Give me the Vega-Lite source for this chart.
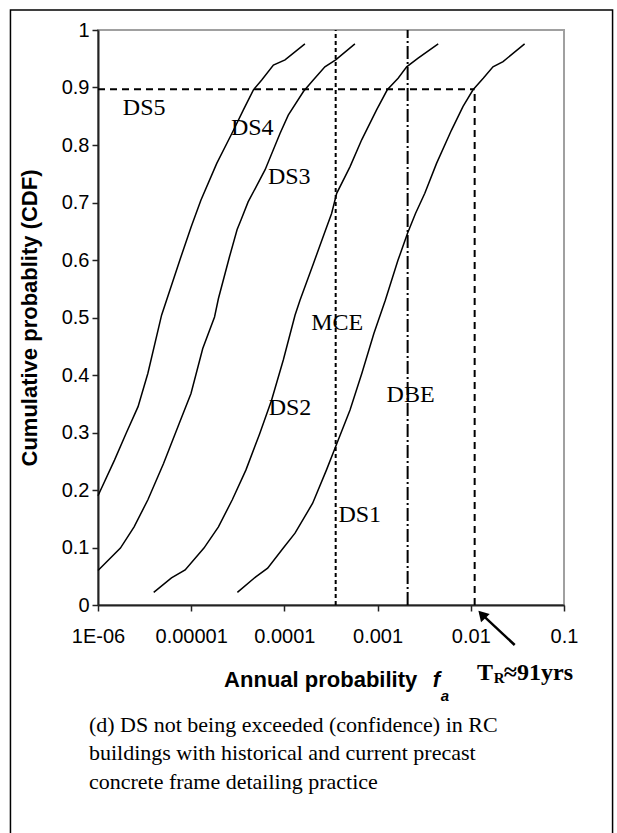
{
  "$schema": "https://vega.github.io/schema/vega-lite/v6.json",
  "width": 466,
  "height": 575,
  "autosize": "none",
  "padding": {"left": 98, "top": 30, "right": 53, "bottom": 228},
  "background": "white",
  "config": {"view": {"stroke": "#a0a0a0", "strokeWidth": 2}, "font": "Liberation Sans"},
  "datasets": {
    "frame": [{"x": 1.15e-7, "x2": 0.332, "y": 1.035, "y2": -0.42}],
    "curves": [
      {"series": "DS5", "x": 1.0e-6, "y": 0.19},
      {"series": "DS5", "x": 1.503e-6, "y": 0.252},
      {"series": "DS5", "x": 2.01e-6, "y": 0.299},
      {"series": "DS5", "x": 2.69e-6, "y": 0.345},
      {"series": "DS5", "x": 3.43e-6, "y": 0.403},
      {"series": "DS5", "x": 4.81e-6, "y": 0.504},
      {"series": "DS5", "x": 7.67e-6, "y": 0.603},
      {"series": "DS5", "x": 1.0e-5, "y": 0.658},
      {"series": "DS5", "x": 1.27e-5, "y": 0.704},
      {"series": "DS5", "x": 1.88e-5, "y": 0.768},
      {"series": "DS5", "x": 2.73e-5, "y": 0.82},
      {"series": "DS5", "x": 3.63e-5, "y": 0.861},
      {"series": "DS5", "x": 4.65e-5, "y": 0.896},
      {"series": "DS5", "x": 5.71e-5, "y": 0.913},
      {"series": "DS5", "x": 7.62e-5, "y": 0.939},
      {"series": "DS5", "x": 1.016e-4, "y": 0.948},
      {"series": "DS5", "x": 1.66e-4, "y": 0.976},
      {"series": "DS4", "x": 1.0e-6, "y": 0.06},
      {"series": "DS4", "x": 1.74e-6, "y": 0.099},
      {"series": "DS4", "x": 2.44e-6, "y": 0.136},
      {"series": "DS4", "x": 3.43e-6, "y": 0.183},
      {"series": "DS4", "x": 5.05e-6, "y": 0.246},
      {"series": "DS4", "x": 7.45e-6, "y": 0.316},
      {"series": "DS4", "x": 9.95e-6, "y": 0.368},
      {"series": "DS4", "x": 1.33e-5, "y": 0.446},
      {"series": "DS4", "x": 1.78e-5, "y": 0.501},
      {"series": "DS4", "x": 1.96e-5, "y": 0.533},
      {"series": "DS4", "x": 2.58e-5, "y": 0.606},
      {"series": "DS4", "x": 3.11e-5, "y": 0.653},
      {"series": "DS4", "x": 3.43e-5, "y": 0.67},
      {"series": "DS4", "x": 4.08e-5, "y": 0.701},
      {"series": "DS4", "x": 6.21e-5, "y": 0.757},
      {"series": "DS4", "x": 8.97e-5, "y": 0.82},
      {"series": "DS4", "x": 1.10e-4, "y": 0.852},
      {"series": "DS4", "x": 1.60e-4, "y": 0.893},
      {"series": "DS4", "x": 2.04e-4, "y": 0.913},
      {"series": "DS4", "x": 2.72e-4, "y": 0.936},
      {"series": "DS4", "x": 3.55e-4, "y": 0.948},
      {"series": "DS4", "x": 5.71e-4, "y": 0.976},
      {"series": "DS3", "x": 3.96e-6, "y": 0.022},
      {"series": "DS3", "x": 6.14e-6, "y": 0.047},
      {"series": "DS3", "x": 8.61e-6, "y": 0.061},
      {"series": "DS3", "x": 1.37e-5, "y": 0.099},
      {"series": "DS3", "x": 1.96e-5, "y": 0.136},
      {"series": "DS3", "x": 2.76e-5, "y": 0.183},
      {"series": "DS3", "x": 3.87e-5, "y": 0.235},
      {"series": "DS3", "x": 5.43e-5, "y": 0.298},
      {"series": "DS3", "x": 7.28e-5, "y": 0.356},
      {"series": "DS3", "x": 9.73e-5, "y": 0.426},
      {"series": "DS3", "x": 1.30e-4, "y": 0.504},
      {"series": "DS3", "x": 1.47e-4, "y": 0.53},
      {"series": "DS3", "x": 2.05e-4, "y": 0.594},
      {"series": "DS3", "x": 2.68e-4, "y": 0.646},
      {"series": "DS3", "x": 3.21e-4, "y": 0.681},
      {"series": "DS3", "x": 3.64e-4, "y": 0.716},
      {"series": "DS3", "x": 5.05e-4, "y": 0.762},
      {"series": "DS3", "x": 6.75e-4, "y": 0.809},
      {"series": "DS3", "x": 9.75e-4, "y": 0.861},
      {"series": "DS3", "x": 1.27e-3, "y": 0.896},
      {"series": "DS3", "x": 1.66e-3, "y": 0.916},
      {"series": "DS3", "x": 2.05e-3, "y": 0.936},
      {"series": "DS3", "x": 2.72e-3, "y": 0.951},
      {"series": "DS3", "x": 4.47e-3, "y": 0.976},
      {"series": "DS1", "x": 3.13e-5, "y": 0.022},
      {"series": "DS1", "x": 4.93e-5, "y": 0.049},
      {"series": "DS1", "x": 6.61e-5, "y": 0.064},
      {"series": "DS1", "x": 9.73e-5, "y": 0.099},
      {"series": "DS1", "x": 1.30e-4, "y": 0.125},
      {"series": "DS1", "x": 2.01e-4, "y": 0.177},
      {"series": "DS1", "x": 2.83e-4, "y": 0.235},
      {"series": "DS1", "x": 3.78e-4, "y": 0.287},
      {"series": "DS1", "x": 5.06e-4, "y": 0.339},
      {"series": "DS1", "x": 6.78e-4, "y": 0.403},
      {"series": "DS1", "x": 9.12e-4, "y": 0.472},
      {"series": "DS1", "x": 1.21e-3, "y": 0.53},
      {"series": "DS1", "x": 1.65e-3, "y": 0.599},
      {"series": "DS1", "x": 2.09e-3, "y": 0.646},
      {"series": "DS1", "x": 2.55e-3, "y": 0.681},
      {"series": "DS1", "x": 3.21e-3, "y": 0.716},
      {"series": "DS1", "x": 4.29e-3, "y": 0.768},
      {"series": "DS1", "x": 6.21e-3, "y": 0.826},
      {"series": "DS1", "x": 8.26e-3, "y": 0.867},
      {"series": "DS1", "x": 1.057e-2, "y": 0.896},
      {"series": "DS1", "x": 1.36e-2, "y": 0.916},
      {"series": "DS1", "x": 1.73e-2, "y": 0.936},
      {"series": "DS1", "x": 2.22e-2, "y": 0.945},
      {"series": "DS1", "x": 3.78e-2, "y": 0.976}
    ],
    "labels": [
      {"t": "DS5", "x": 3.13e-6, "y": 0.864},
      {"t": "DS4", "x": 4.52e-5, "y": 0.829},
      {"t": "DS3", "x": 1.127e-4, "y": 0.745},
      {"t": "MCE", "x": 3.68e-4, "y": 0.49},
      {"t": "DBE", "x": 2.26e-3, "y": 0.365},
      {"t": "DS2", "x": 1.148e-4, "y": 0.343},
      {"t": "DS1", "x": 6.43e-4, "y": 0.156}
    ]
  },
  "layer": [
    {
      "data": {"name": "frame"},
      "mark": {"type": "rect", "fillOpacity": 0, "stroke": "black", "strokeWidth": 1.5, "clip": false},
      "encoding": {
        "x": {"field": "x", "type": "quantitative"},
        "x2": {"field": "x2"},
        "y": {"field": "y", "type": "quantitative"},
        "y2": {"field": "y2"}
      }
    },
    {
      "data": {"name": "curves"},
      "mark": {"type": "line", "color": "black", "strokeWidth": 1.5},
      "encoding": {
        "x": {
          "field": "x", "type": "quantitative",
          "scale": {"type": "log", "domain": [1e-6, 0.1], "nice": false},
          "axis": {
            "values": [1e-6, 1e-5, 1e-4, 1e-3, 0.01, 0.1],
            "labelExpr": "datum.value < 5e-6 ? '1E-06' : datum.value < 5e-5 ? '0.00001' : datum.value < 5e-4 ? '0.0001' : datum.value < 5e-3 ? '0.001' : datum.value < 0.05 ? '0.01' : '0.1'",
            "title": null, "grid": false,
            "domainColor": "#222", "domainWidth": 2,
            "tickColor": "#222", "tickWidth": 1.5, "tickSize": 6,
            "labelFont": "Liberation Sans", "labelFontSize": 20, "labelColor": "black",
            "labelPadding": 15, "labelFlush": false, "labelOverlap": false
          }
        },
        "y": {
          "field": "y", "type": "quantitative",
          "scale": {"domain": [0, 1], "nice": false},
          "axis": {
            "values": [0, 0.1, 0.2, 0.3, 0.4, 0.5, 0.6, 0.7, 0.8, 0.9, 1],
            "labelExpr": "datum.value == 0 ? '0' : datum.value == 1 ? '1' : format(datum.value, '.1f')",
            "title": "Cumulative probablity (CDF)",
            "titleFont": "Liberation Sans", "titleFontSize": 22, "titleFontWeight": "bold", "titleColor": "black",
            "titlePadding": 20, "grid": false,
            "domainColor": "#222", "domainWidth": 2,
            "tickColor": "#222", "tickWidth": 1.5, "tickSize": 6,
            "labelFont": "Liberation Sans", "labelFontSize": 20, "labelColor": "black",
            "labelPadding": 3, "labelFlush": false, "labelOverlap": false
          }
        },
        "detail": {"field": "series"}
      }
    },
    {
      "data": {"values": [{"x": 3.55e-4, "y": 0, "y2": 1}]},
      "mark": {"type": "rule", "color": "black", "strokeWidth": 2, "strokeDash": [4, 3]},
      "encoding": {"x": {"field": "x", "type": "quantitative"}, "y": {"field": "y", "type": "quantitative"}, "y2": {"field": "y2"}}
    },
    {
      "data": {"values": [{"x": 2.1e-3, "y": 0, "y2": 1}]},
      "mark": {"type": "rule", "color": "black", "strokeWidth": 2, "strokeDash": [13, 3, 2, 3]},
      "encoding": {"x": {"field": "x", "type": "quantitative"}, "y": {"field": "y", "type": "quantitative"}, "y2": {"field": "y2"}}
    },
    {
      "data": {"values": [{"x": 0.011, "y": 0, "y2": 0.897}]},
      "mark": {"type": "rule", "color": "black", "strokeWidth": 2, "strokeDash": [7, 5]},
      "encoding": {"x": {"field": "x", "type": "quantitative"}, "y": {"field": "y", "type": "quantitative"}, "y2": {"field": "y2"}}
    },
    {
      "data": {"values": [{"x": 1e-6, "x2": 0.011, "y": 0.897}]},
      "mark": {"type": "rule", "color": "black", "strokeWidth": 2, "strokeDash": [7, 5]},
      "encoding": {"x": {"field": "x", "type": "quantitative"}, "x2": {"field": "x2"}, "y": {"field": "y", "type": "quantitative"}}
    },
    {
      "data": {"name": "labels"},
      "mark": {"type": "text", "font": "Liberation Serif", "fontSize": 24, "color": "black", "align": "center", "baseline": "middle"},
      "encoding": {"x": {"field": "x", "type": "quantitative"}, "y": {"field": "y", "type": "quantitative"}, "text": {"field": "t"}}
    },
    {
      "data": {"values": [{"t": "Annual probability", "x": 2.255e-5, "y": -0.142}]},
      "mark": {"type": "text", "font": "Liberation Sans", "fontSize": 22, "fontWeight": "bold", "color": "black", "align": "left", "baseline": "alphabetic"},
      "encoding": {"x": {"field": "x", "type": "quantitative"}, "y": {"field": "y", "type": "quantitative"}, "text": {"field": "t"}}
    },
    {
      "data": {"values": [{"t": "f", "x": 3.914e-3, "y": -0.142}]},
      "mark": {"type": "text", "font": "Liberation Sans", "fontSize": 22, "fontWeight": "bold", "fontStyle": "italic", "color": "black", "align": "left", "baseline": "alphabetic"},
      "encoding": {"x": {"field": "x", "type": "quantitative"}, "y": {"field": "y", "type": "quantitative"}, "text": {"field": "t"}}
    },
    {
      "data": {"values": [{"t": "a", "x": 4.77e-3, "y": -0.167}]},
      "mark": {"type": "text", "font": "Liberation Sans", "fontSize": 15, "fontWeight": "bold", "fontStyle": "italic", "color": "black", "align": "left", "baseline": "alphabetic"},
      "encoding": {"x": {"field": "x", "type": "quantitative"}, "y": {"field": "y", "type": "quantitative"}, "text": {"field": "t"}}
    },
    {
      "data": {"values": [{"t": "T", "x": 0.01168, "y": -0.1304}, {"t": "≈91yrs", "x": 0.0226, "y": -0.1304}]},
      "mark": {"type": "text", "font": "Liberation Serif", "fontSize": 24, "fontWeight": "bold", "color": "black", "align": "left", "baseline": "alphabetic"},
      "encoding": {"x": {"field": "x", "type": "quantitative"}, "y": {"field": "y", "type": "quantitative"}, "text": {"field": "t"}}
    },
    {
      "data": {"values": [{"t": "R", "x": 0.0176, "y": -0.1357}]},
      "mark": {"type": "text", "font": "Liberation Serif", "fontSize": 15, "fontWeight": "bold", "color": "black", "align": "left", "baseline": "alphabetic"},
      "encoding": {"x": {"field": "x", "type": "quantitative"}, "y": {"field": "y", "type": "quantitative"}, "text": {"field": "t"}}
    },
    {
      "data": {"values": [
        {"t": "(d) DS not being exceeded (confidence) in RC", "x": 7.99e-7, "y": -0.2203},
        {"t": "buildings with historical and current precast", "x": 7.99e-7, "y": -0.2696},
        {"t": "concrete frame detailing practice", "x": 7.99e-7, "y": -0.32}
      ]},
      "mark": {"type": "text", "font": "Liberation Serif", "fontSize": 22, "color": "black", "align": "left", "baseline": "alphabetic"},
      "encoding": {"x": {"field": "x", "type": "quantitative"}, "y": {"field": "y", "type": "quantitative"}, "text": {"field": "t"}}
    },
    {
      "data": {"values": [{"x": 0.02959, "y": -0.0696, "x2": 0.01315, "y2": -0.01635}]},
      "mark": {"type": "rule", "color": "black", "strokeWidth": 2.5, "clip": false},
      "encoding": {"x": {"field": "x", "type": "quantitative"}, "y": {"field": "y", "type": "quantitative"}, "x2": {"field": "x2"}, "y2": {"field": "y2"}}
    },
    {
      "data": {"values": [{"x": 0.01315, "y": -0.01635}]},
      "mark": {"type": "point", "shape": "triangle-up", "filled": true, "color": "black", "opacity": 1, "size": 140, "angle": 317, "clip": false},
      "encoding": {"x": {"field": "x", "type": "quantitative"}, "y": {"field": "y", "type": "quantitative"}}
    }
  ]
}
